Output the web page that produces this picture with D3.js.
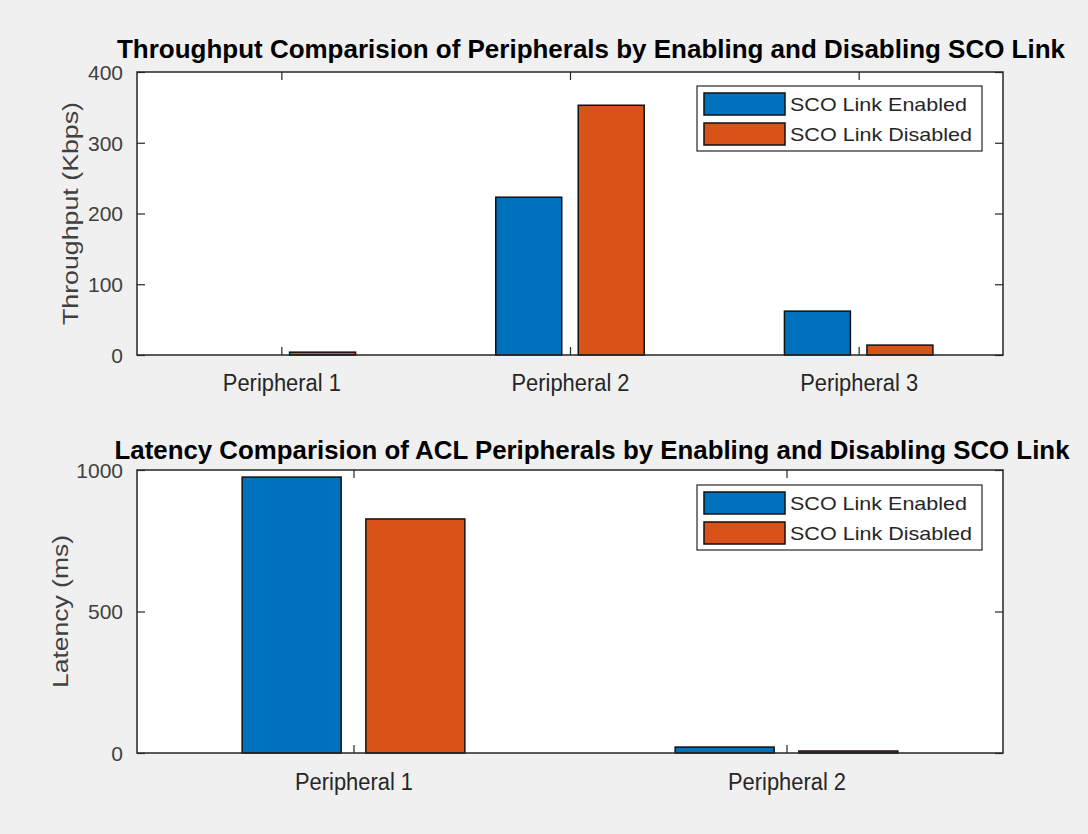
<!DOCTYPE html>
<html>
<head>
<meta charset="utf-8">
<script src="https://cdn.jsdelivr.net/npm/d3@7"></script>
<style>
  html, body { margin: 0; padding: 0; background: #f0f0f0; }
  svg { display: block; }
</style>
</head>
<body>
<script>
// ---- Data ----
const seriesNames = ["SCO Link Enabled", "SCO Link Disabled"];
const seriesColors = ["#0072BD", "#D95319"];

const throughputCategories = ["Peripheral 1", "Peripheral 2", "Peripheral 3"];
const throughputEnabled = [0, 223, 62];
const throughputDisabled = [4, 353, 14];
const throughputTicks = [0, 100, 200, 300, 400];

const latencyCategories = ["Peripheral 1", "Peripheral 2"];
const latencyEnabled = [975, 21];
const latencyDisabled = [827, 7];
const latencyTicks = [0, 500, 1000];

const W = 1088, H = 834;
const svg = d3.select("body").append("svg").attr("width", W).attr("height", H);
svg.append("rect").attr("width", W).attr("height", H).attr("fill", "#f0f0f0");

const FONT = "Liberation Sans, Arial, sans-serif";

function panel(cfg) {
  const g = svg.append("g");
  const {left, right, top, bottom} = cfg;
  const n = cfg.categories.length;
  const x = d3.scaleLinear().domain([0.5, n + 0.5]).range([left, right]);
  const y = d3.scaleLinear().domain(cfg.yDomain).range([bottom, top]);

  g.append("rect").attr("x", left).attr("y", top)
    .attr("width", right - left).attr("height", bottom - top)
    .attr("fill", "#ffffff");

  // grouped bars (MATLAB style geometry)
  const groupWidth = Math.min(0.8, 2 / (2 + 1.5));
  const barW = groupWidth / 2 * 0.8;
  const offs = [-groupWidth / 4, groupWidth / 4];
  const data = [];
  cfg.series.forEach((vals, si) => {
    vals.forEach((v, ci) => data.push({si, ci, v}));
  });
  g.selectAll("rect.bar").data(data).enter().append("rect")
    .attr("class", "bar")
    .attr("x", d => x(d.ci + 1 + offs[d.si] - barW / 2))
    .attr("width", d => x(d.ci + 1 + offs[d.si] + barW / 2) - x(d.ci + 1 + offs[d.si] - barW / 2))
    .attr("y", d => y(d.v))
    .attr("height", d => y(0) - y(d.v))
    .attr("fill", d => seriesColors[d.si])
    .attr("stroke", "#111")
    .attr("stroke-width", 1.5);

  // axes box
  g.append("rect").attr("x", left).attr("y", top)
    .attr("width", right - left).attr("height", bottom - top)
    .attr("fill", "none").attr("stroke", "#262626").attr("stroke-width", 1.5);

  const cats = d3.range(1, n + 1);
  const tl = 8;
  const axB = d3.axisBottom(x).tickValues(cats).tickSize(-tl).tickFormat((d, i) => cfg.categories[i]).tickPadding(20);
  const gB = g.append("g").attr("transform", `translate(0,${bottom})`).call(axB);
  const axT = d3.axisTop(x).tickValues(cats).tickSize(-tl).tickFormat("");
  const gT = g.append("g").attr("transform", `translate(0,${top})`).call(axT);
  const axL = d3.axisLeft(y).tickValues(cfg.yTicks).tickSize(-tl).tickPadding(14).tickFormat(d3.format("d"));
  const gL = g.append("g").attr("transform", `translate(${left},0)`).call(axL);
  const axR = d3.axisRight(y).tickValues(cfg.yTicks).tickSize(-tl).tickFormat("");
  const gR = g.append("g").attr("transform", `translate(${right},0)`).call(axR);
  [gB, gT, gL, gR].forEach(a => {
    a.select(".domain").remove();
    a.selectAll(".tick line").attr("stroke", "#262626").attr("stroke-width", 1.2);
  });
  gL.selectAll(".tick text").attr("font-family", FONT).attr("font-size", 21)
    .attr("fill", "#404040").attr("dy", "0.35em");
  gB.selectAll(".tick text").attr("font-family", FONT).attr("font-size", 23)
    .attr("fill", "#262626").attr("dy", "0").attr("y", cfg.xLabelBaseline - bottom)
    .attr("textLength", 118).attr("lengthAdjust", "spacingAndGlyphs");

  // y label
  g.append("text")
    .attr("transform", `translate(${cfg.yLabelX},${(top + bottom) / 2 + cfg.yLabelDy}) rotate(-90)`)
    .attr("text-anchor", "middle")
    .attr("font-family", FONT).attr("font-size", 22).attr("fill", "#404040")
    .attr("textLength", cfg.yLabelLen).attr("lengthAdjust", "spacingAndGlyphs")
    .text(cfg.yLabel);

  // title
  g.append("text")
    .attr("x", cfg.titleX).attr("y", cfg.titleY)
    .attr("text-anchor", "middle")
    .attr("font-family", FONT).attr("font-weight", "bold").attr("font-size", 26)
    .attr("fill", "#000")
    .attr("textLength", cfg.titleLen).attr("lengthAdjust", "spacingAndGlyphs")
    .text(cfg.title);

  // legend
  const lg = g.append("g");
  lg.append("rect").attr("x", cfg.legend.x).attr("y", cfg.legend.y)
    .attr("width", 285).attr("height", 65)
    .attr("fill", "#ffffff").attr("stroke", "#262626").attr("stroke-width", 1.2);
  seriesNames.forEach((name, i) => {
    const yy = cfg.legend.y + 7 + i * 30;
    lg.append("rect").attr("x", cfg.legend.x + 7).attr("y", yy)
      .attr("width", 81).attr("height", 22)
      .attr("fill", seriesColors[i]).attr("stroke", "#111").attr("stroke-width", 1.5);
    lg.append("text").attr("x", cfg.legend.x + 93).attr("y", yy + 18)
      .attr("font-family", FONT).attr("font-size", 19).attr("fill", "#262626")
      .attr("textLength", i === 0 ? 177 : 182).attr("lengthAdjust", "spacingAndGlyphs")
      .text(name);
  });
}

panel({
  left: 137, right: 1003, top: 72, bottom: 355,
  categories: throughputCategories,
  series: [throughputEnabled, throughputDisabled],
  yDomain: [0, 400], yTicks: throughputTicks,
  yLabel: "Throughput (Kbps)", yLabelX: 78, yLabelDy: 0, yLabelLen: 223,
  title: "Throughput Comparision of Peripherals by Enabling and Disabling SCO Link",
  titleX: 591, titleY: 58, titleLen: 948,
  xLabelBaseline: 391,
  legend: {x: 697, y: 86}
});

panel({
  left: 137, right: 1003, top: 470, bottom: 753,
  categories: latencyCategories,
  series: [latencyEnabled, latencyDisabled],
  yDomain: [0, 1000], yTicks: latencyTicks,
  yLabel: "Latency (ms)", yLabelX: 68, yLabelDy: 0, yLabelLen: 153,
  title: "Latency Comparision of ACL Peripherals by Enabling and Disabling SCO Link",
  titleX: 592, titleY: 459, titleLen: 955,
  xLabelBaseline: 790,
  legend: {x: 697, y: 485}
});
</script>
</body>
</html>
